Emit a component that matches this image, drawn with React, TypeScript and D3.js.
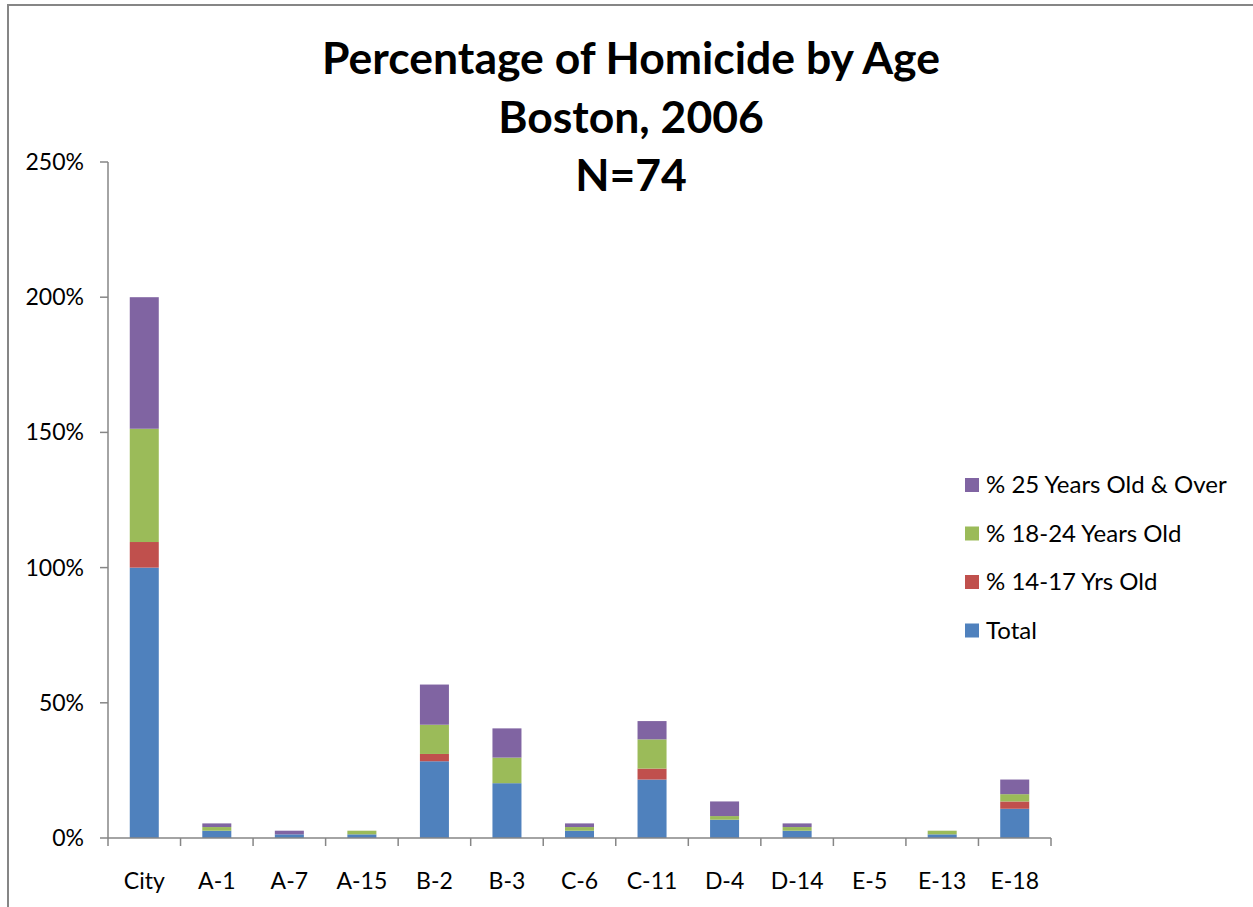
import React from "react";
import * as d3 from "d3";

const categories = ["City", "A-1", "A-7", "A-15", "B-2", "B-3", "C-6", "C-11", "D-4", "D-14", "E-5", "E-13", "E-18"];
const total = [100, 2.7, 1.35, 1.35, 28.38, 20.27, 2.7, 21.62, 6.76, 2.7, 0, 1.35, 10.81];
const age14to17 = [9.46, 0, 0, 0, 2.7, 0, 0, 4.05, 0, 0, 0, 0, 2.7];
const age18to24 = [41.89, 1.35, 0, 1.35, 10.81, 9.46, 1.35, 10.81, 1.35, 1.35, 0, 1.35, 2.7];
const age25plus = [48.65, 1.35, 1.35, 0, 14.86, 10.81, 1.35, 6.76, 5.41, 1.35, 0, 0, 5.41];
const yTicks = [0, 50, 100, 150, 200, 250];
const seriesNames = ["Total", "% 14-17 Yrs Old", "% 18-24 Years Old", "% 25 Years Old & Over"];
const seriesColors = ["#4F81BD", "#C0504D", "#9BBB59", "#8064A2"];
const titleLines = ["Percentage of Homicide by Age", "Boston, 2006", "N=74"];

const W = 1253;
const H = 907;
const left = 108;
const right = 1051;
const top = 162;
const bottom = 838;
const FONT = "Lato, 'Open Sans', sans-serif";
const AXIS = "#868686";

export default function App() {
  const keys = ["total", "a", "b", "c"];
  const rows = categories.map((c, i) => ({
    cat: c,
    total: total[i],
    a: age14to17[i],
    b: age18to24[i],
    c: age25plus[i],
  }));
  const stacked = d3.stack<any>().keys(keys)(rows);
  const x = d3.scaleBand<string>().domain(categories).range([left, right]).paddingInner(0.6).paddingOuter(0.3);
  const xBand = d3.scaleBand<string>().domain(categories).range([left, right]);
  const y = d3.scaleLinear().domain([0, 250]).range([bottom, top]);

  const legendOrder = [3, 2, 1, 0];

  return (
    <div style={{ position: "absolute", left: 0, top: 0 }}>
      <svg width={W} height={H} style={{ display: "block", background: "#fff" }}>
        <rect x={0} y={0} width={W} height={H} fill="#fff" />
        {/* outer frame (partially visible) */}
        <line x1={8} y1={5} x2={W} y2={5} stroke={AXIS} strokeWidth={2} />
        <line x1={8} y1={4} x2={8} y2={H} stroke={AXIS} strokeWidth={2} />

        {/* title */}
        {titleLines.map((t, i) => (
          <text
            key={i}
            x={631}
            y={74 + i * 58.5}
            textAnchor="middle"
            fontFamily={FONT}
            fontWeight="bold"
            fontSize={44.5}
            fill="#000"
          >
            {t}
          </text>
        ))}

        {/* bars */}
        {stacked.map((s, si) =>
          s.map((d, i) => {
            const h = y(d[0]) - y(d[1]);
            if (h <= 0) return null;
            return (
              <rect
                key={si + "-" + i}
                x={x(categories[i])}
                y={y(d[1])}
                width={x.bandwidth()}
                height={h}
                fill={seriesColors[si]}
              />
            );
          })
        )}

        {/* y axis */}
        <line x1={left} y1={top} x2={left} y2={bottom} stroke={AXIS} strokeWidth={1.5} />
        {yTicks.map((t) => (
          <g key={t}>
            <line x1={left - 8} y1={y(t)} x2={left} y2={y(t)} stroke={AXIS} strokeWidth={1.5} />
            <text x={84} y={y(t) + 8} textAnchor="end" fontFamily={FONT} fontSize={23} fill="#000">
              {t + "%"}
            </text>
          </g>
        ))}

        {/* x axis */}
        <line x1={left} y1={bottom} x2={right} y2={bottom} stroke={AXIS} strokeWidth={1.5} />
        {categories.map((c) => (
          <line
            key={"t" + c}
            x1={xBand(c)}
            y1={bottom}
            x2={xBand(c)}
            y2={bottom + 8}
            stroke={AXIS}
            strokeWidth={1.5}
          />
        ))}
        <line x1={right} y1={bottom} x2={right} y2={bottom + 8} stroke={AXIS} strokeWidth={1.5} />
        {categories.map((c) => (
          <text
            key={"l" + c}
            x={(xBand(c) as number) + xBand.bandwidth() / 2}
            y={889}
            textAnchor="middle"
            fontFamily={FONT}
            fontSize={23}
            fill="#000"
          >
            {c}
          </text>
        ))}

        {/* legend */}
        {legendOrder.map((si, j) => (
          <g key={"lg" + si}>
            <rect x={965} y={478 + j * 48.5} width={14} height={14} fill={seriesColors[si]} />
            <text x={986} y={493 + j * 48.5} fontFamily={FONT} fontSize={24} fill="#000">
              {seriesNames[si]}
            </text>
          </g>
        ))}
      </svg>
    </div>
  );
}
